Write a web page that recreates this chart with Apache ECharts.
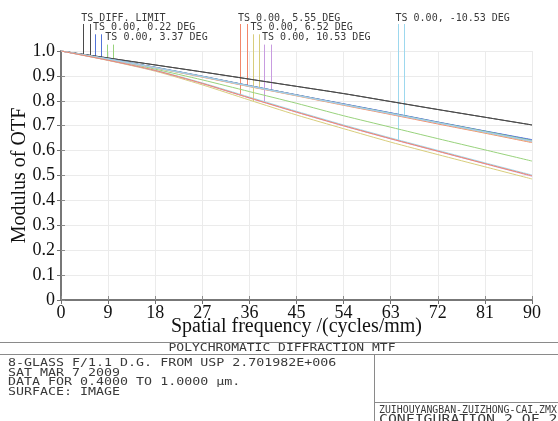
<!DOCTYPE html>
<html>
<head>
<meta charset="utf-8">
<script src="https://cdn.jsdelivr.net/npm/echarts@6/dist/echarts.min.js"></script>
<style>
  html, body { margin: 0; padding: 0; background: #fff; }
  #chart { width: 558px; height: 421px; }
</style>
</head>
<body>
<div id="chart"></div>
<script>
// spatial frequency samples (cycles/mm)
const freq = [0, 9, 18, 27, 36, 45, 54, 63, 72, 81, 90]
const xTickLabels = ['0', '9', '18', '27', '36', '45', '54', '63', '72', '81', '90']
const yTickLabels = ['0', '0.1', '0.2', '0.3', '0.4', '0.5', '0.6', '0.7', '0.8', '0.9', '1.0']

// MTF values, T = tangential, S = sagittal
const diffT = [1.000, 0.972, 0.944, 0.916, 0.887, 0.858, 0.829, 0.797, 0.765, 0.734, 0.703]
const diffS = [1.000, 0.972, 0.944, 0.916, 0.887, 0.858, 0.829, 0.797, 0.765, 0.734, 0.703]
const f022T = [1.000, 0.969, 0.935, 0.899, 0.861, 0.824, 0.788, 0.752, 0.715, 0.679, 0.644]
const f022S = [1.000, 0.968, 0.934, 0.898, 0.861, 0.824, 0.787, 0.751, 0.714, 0.678, 0.642]
const f337T = [1.000, 0.966, 0.927, 0.884, 0.837, 0.790, 0.740, 0.694, 0.648, 0.603, 0.558]
const f337S = [1.000, 0.968, 0.934, 0.898, 0.860, 0.823, 0.786, 0.750, 0.713, 0.677, 0.640]
const f555T = [1.000, 0.963, 0.922, 0.870, 0.812, 0.755, 0.700, 0.648, 0.598, 0.548, 0.499]
const f555S = [1.000, 0.967, 0.932, 0.895, 0.857, 0.820, 0.782, 0.745, 0.707, 0.670, 0.632]
const f652T = [1.000, 0.962, 0.919, 0.864, 0.803, 0.743, 0.688, 0.634, 0.584, 0.535, 0.486]
const f652S = [1.000, 0.967, 0.932, 0.896, 0.858, 0.821, 0.784, 0.747, 0.710, 0.672, 0.635]
const f1053T = [1.000, 0.963, 0.921, 0.869, 0.811, 0.754, 0.699, 0.647, 0.597, 0.547, 0.497]
const f1053S = [1.000, 0.967, 0.933, 0.897, 0.859, 0.822, 0.785, 0.748, 0.711, 0.674, 0.637]
const fm1053T = [1.000, 0.964, 0.923, 0.872, 0.815, 0.758, 0.703, 0.651, 0.601, 0.551, 0.502]
const fm1053S = [1.000, 0.968, 0.933, 0.897, 0.859, 0.822, 0.785, 0.749, 0.712, 0.675, 0.638]

// key labels and where their T / S marker lines meet the curves
const keyLabels = ['TS DIFF. LIMIT', 'TS 0.00, 0.22 DEG', 'TS 0.00, 3.37 DEG', 'TS 0.00, 5.55 DEG',
  'TS 0.00, 6.52 DEG', 'TS 0.00, 10.53 DEG', 'TS 0.00, -10.53 DEG']
const keyFreqT = [4.26, 6.5, 8.85, 34.2, 36.6, 38.8, 64.3]
const keyFreqS = [5.54, 7.7, 9.99, 35.5, 37.8, 40.1, 65.6]

const colors = ['#4a4a4a', '#5273d8', '#98d27c', '#f2876a', '#d8cd7c', '#c89ce0', '#9dd8ee']
const curvesT = [diffT, f022T, f337T, f555T, f652T, f1053T, fm1053T]
const curvesS = [diffS, f022S, f337S, f555S, f652S, f1053S, fm1053S]
// stacking so the red / cyan tangential curves sit on top of the hidden purple one
const zT = [2, 2, 2, 5, 2, 2, 4]

const mono = '"DejaVu Sans Mono", "Liberation Mono", monospace'
const serif = '"Liberation Serif", "DejaVu Serif", serif'
const axisGray = '#8c8c8c'

const chart = echarts.init(document.getElementById('chart'))

const series = []
curvesT.forEach((t, i) => {
  ;[t, curvesS[i]].forEach((vals, k) => {
    series.push({
      name: keyLabels[i] + (k ? ' S' : ' T'),
      type: 'line',
      data: freq.map((f, j) => [f, vals[j]]),
      symbol: 'none',
      smooth: 0.25,
      z: k ? 2 : zT[i],
      lineStyle: { color: colors[i], width: 1 },
      itemStyle: { color: colors[i] },
      silent: true,
      animation: false,
    })
  })
})

chart.setOption({
  animation: false,
  grid: { left: 61, right: 26, top: 51, bottom: 121, containLabel: false, outerBoundsMode: 'none' },
  xAxis: [
    {
      type: 'value',
      min: 0,
      max: 90,
      interval: 9,
      position: 'bottom',
      axisLine: { lineStyle: { color: axisGray, width: 2 } },
      axisTick: { inside: true, length: 4, lineStyle: { color: axisGray } },
      axisLabel: {
        fontFamily: serif,
        fontSize: 18,
        color: '#111',
        margin: 4,
        formatter: (v) => xTickLabels[freq.indexOf(v)],
      },
      splitLine: { show: true, lineStyle: { color: '#ebebeb' } },
      name: 'Spatial frequency /(cycles/mm)',
      nameLocation: 'middle',
      nameGap: 17,
      nameMoveOverlap: false,
      nameTextStyle: { fontFamily: serif, fontSize: 20, color: '#111' },
    },
    {
      type: 'value',
      min: 0,
      max: 90,
      interval: 9,
      position: 'top',
      axisLine: { lineStyle: { color: '#707070', width: 1.5 } },
      axisTick: { inside: true, length: 4, lineStyle: { color: '#707070' } },
      axisLabel: { show: false },
      splitLine: { show: false },
    },
  ],
  yAxis: [
    {
      type: 'value',
      min: 0,
      max: 1,
      interval: 0.1,
      position: 'left',
      axisLine: { show: true, lineStyle: { color: axisGray, width: 2 } },
      axisTick: { show: true, inside: true, length: 4, lineStyle: { color: axisGray } },
      axisLabel: {
        fontFamily: serif,
        fontSize: 18,
        color: '#111',
        margin: 6,
        formatter: (v) => yTickLabels[Math.round(v * 10)],
      },
      splitLine: { show: true, lineStyle: { color: '#ebebeb' } },
      name: 'Modulus of OTF',
      nameLocation: 'middle',
      nameGap: 31,
      nameMoveOverlap: false,
      nameTextStyle: { fontFamily: serif, fontSize: 20, color: '#111' },
    },
    {
      type: 'value',
      min: 0,
      max: 1,
      interval: 0.1,
      position: 'right',
      axisLine: { show: true, lineStyle: { color: '#707070', width: 1.5 } },
      axisTick: { show: true, inside: true, length: 4, lineStyle: { color: '#707070' } },
      axisLabel: { show: false },
      splitLine: { show: false },
    },
  ],
  series,
})

// value of a curve at a frequency (straight segments between the samples)
function valueAt(vals, f) {
  for (let j = 0; j < freq.length - 1; j++) {
    if (f <= freq[j + 1]) {
      const r = (f - freq[j]) / (freq[j + 1] - freq[j])
      return vals[j] + r * (vals[j + 1] - vals[j])
    }
  }
  return vals[vals.length - 1]
}

const graphic = []
const rowOf = [0, 1, 2, 0, 1, 2, 0]
keyLabels.forEach((label, i) => {
  const row = rowOf[i]
  const pT = chart.convertToPixel({ gridIndex: 0 }, [keyFreqT[i], valueAt(curvesT[i], keyFreqT[i])])
  const pS = chart.convertToPixel({ gridIndex: 0 }, [keyFreqS[i], valueAt(curvesS[i], keyFreqS[i])])
  const top = 24 + row * 10.3
  ;[pT, pS].forEach((p) => {
    const x = Math.round(p[0]) + 0.5
    graphic.push({
      type: 'line',
      shape: { x1: x, y1: top, x2: x, y2: p[1] },
      style: { stroke: colors[i], lineWidth: 1 },
      silent: true,
    })
  })
  graphic.push({
    type: 'text',
    x: pT[0] - 2,
    y: 18 + row * 9.9,
    style: { text: label, font: '10px ' + mono, fill: '#3a3a3a', textVerticalAlign: 'middle' },
    silent: true,
  })
})

// title block below the plot
const boxLine = (x1, y1, x2, y2) => ({
  type: 'line',
  shape: { x1, y1, x2, y2 },
  style: { stroke: '#8a8a8a', lineWidth: 1 },
  silent: true,
})
const boxText = (text, x, y, size, sx, align) => ({
  type: 'text',
  x,
  y,
  scaleX: sx,
  style: { text, font: size + 'px ' + mono, fill: '#3a3a3a', textAlign: align || 'left', textVerticalAlign: 'middle' },
  silent: true,
})
graphic.push(
  boxLine(0, 342.5, 558, 342.5),
  boxLine(0, 354.5, 558, 354.5),
  boxLine(374.5, 354.5, 374.5, 421),
  boxLine(374.5, 402.5, 558, 402.5),
  boxText('POLYCHROMATIC DIFFRACTION MTF', 282, 348.5, 10, 1.3, 'center'),
  boxText('8-GLASS F/1.1 D.G. FROM USP 2.701982E+006', 8, 363.5, 10, 1.33),
  boxText('SAT MAR 7 2009', 8, 373, 10, 1.33),
  boxText('DATA FOR 0.4000 TO 1.0000 \u00b5m.', 8, 382.5, 10, 1.33),
  boxText('SURFACE: IMAGE', 8, 392, 10, 1.33),
  boxText('ZUIHOUYANGBAN-ZUIZHONG-CAI.ZMX', 379, 410, 10, 0.985),
  boxText('CONFIGURATION 2 OF 2', 379, 419.5, 13, 1.14),
)

chart.setOption({ graphic })
</script>
</body>
</html>
